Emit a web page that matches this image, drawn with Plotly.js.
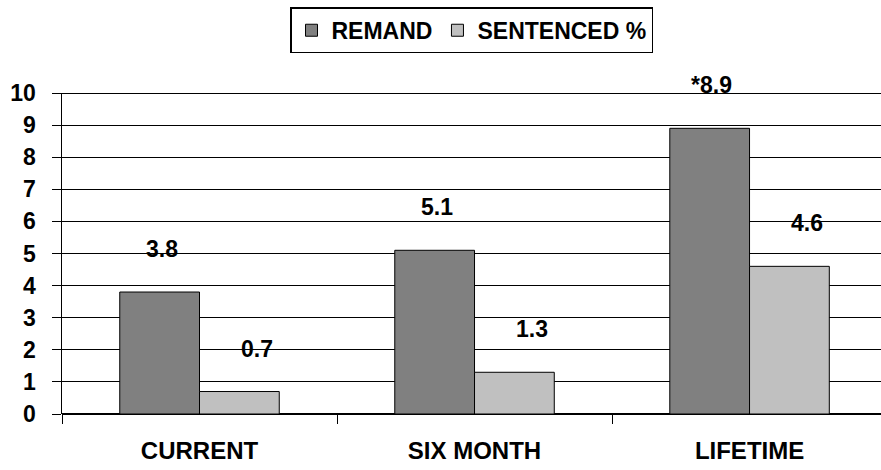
<!DOCTYPE html>
<html>
<head>
<meta charset="utf-8">
<script src="https://cdn.plot.ly/plotly-3.0.1.min.js"></script>
<style>html,body{margin:0;padding:0;background:#fff;}#chart{width:881px;height:470px;}</style>
</head>
<body>
<div id="chart"></div>
<script>
const categories = ["CURRENT", "SIX MONTH", "LIFETIME"];
const remand = [3.8, 5.1, 8.9];
const sentenced = [0.7, 1.3, 4.6];
const remandLabels = ["3.8", "5.1", "*8.9"];
const sentencedLabels = ["0.7", "1.3", "4.6"];
const yTicks = [0, 1, 2, 3, 4, 5, 6, 7, 8, 9, 10];

const FONT = "Liberation Sans, Arial, Helvetica, sans-serif";
const F = (s) => ({family: FONT, size: s, color: "#000", weight: "bold"});

const traces = [
  {type: "bar", name: "REMAND", x: categories, y: remand,
   marker: {color: "#808080", line: {color: "#000", width: 1}}},
  {type: "bar", name: "SENTENCED %", x: categories, y: sentenced,
   marker: {color: "#C0C0C0", line: {color: "#000", width: 1}}}
];

const annotations = [];
categories.forEach((c, i) => {
  annotations.push({x: c, y: remand[i], xref: "x", yref: "y", text: remandLabels[i],
    showarrow: false, yanchor: "middle", xanchor: "center", xshift: -38, yshift: 43,
    font: F(23)});
  annotations.push({x: c, y: sentenced[i], xref: "x", yref: "y", text: sentencedLabels[i],
    showarrow: false, yanchor: "middle", xanchor: "center", xshift: 57, yshift: 43,
    font: F(23)});
});

const layout = {
  width: 881, height: 470,
  margin: {l: 62, r: 0, t: 93, b: 56},
  paper_bgcolor: "#fff", plot_bgcolor: "#fff",
  barmode: "group", bargap: 0.42, bargroupgap: 0,
  font: F(23),
  showlegend: true,
  legend: {orientation: "h", x: 0.5, xref: "paper", xanchor: "center", y: 1.267, yanchor: "top",
    bordercolor: "#000", borderwidth: 1.5, bgcolor: "#fff",
    font: F(23), itemwidth: 30, traceorder: "normal"},
  xaxis: {type: "category", range: [-0.5, 2.478], tickson: "boundaries",
    ticks: "outside", ticklen: 9, tickwidth: 1, tickcolor: "#000",
    showline: false, showgrid: false, zeroline: false,
    ticklabelstandoff: 20,
    tickfont: F(24)},
  yaxis: {range: [0, 10], tickvals: yTicks, ticktext: yTicks.map(String),
    ticks: "outside", ticklen: 9, tickwidth: 1, tickcolor: "#000",
    showline: true, linecolor: "#000", linewidth: 1.5,
    showgrid: true, gridcolor: "#000", gridwidth: 1,
    zeroline: true, zerolinecolor: "#000", zerolinewidth: 1.5,
    ticklabelstandoff: 11,
    tickfont: F(23)},
  annotations: annotations,
  shapes: [{type: "line", xref: "paper", yref: "y", x0: 0, x1: 1, y0: 10, y1: 10,
    line: {color: "#000", width: 2}}]
};

Plotly.newPlot("chart", traces, layout, {displayModeBar: false, staticPlot: true});
</script>
</body>
</html>
